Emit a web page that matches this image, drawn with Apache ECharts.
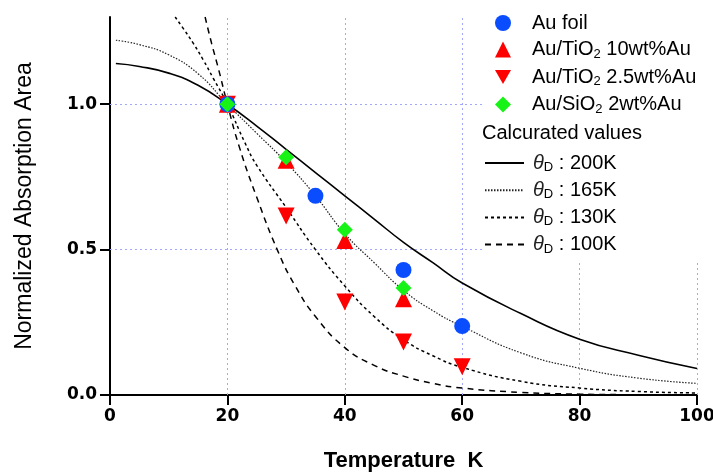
<!DOCTYPE html>
<html>
<head>
<meta charset="utf-8">
<script src="https://cdn.jsdelivr.net/npm/echarts@6/dist/echarts.min.js"></script>
<style>
html, body { margin: 0; padding: 0; background: #fff; }
#chart { width: 713px; height: 472px; }
</style>
</head>
<body>
<div id="chart"></div>
<script>
// measured points
const tFoil = [20, 35, 50, 60];
const auFoil = [1.0, 0.685, 0.43, 0.237];
const tTi10 = [20, 30, 40, 50];
const auTi10 = [1.0, 0.807, 0.531, 0.331];
const tTi25 = [20, 30, 40, 50, 60];
const auTi25 = [1.0, 0.616, 0.32, 0.182, 0.097];
const tSi = [20, 30, 40, 50];
const auSi = [1.0, 0.818, 0.568, 0.368];

// calculated curves
const t200 = [1, 5, 10, 15, 20, 25, 30, 35, 40, 45, 50, 55, 60, 70, 80, 90, 100];
const c200 = [1.14, 1.13, 1.107, 1.065, 1.0, 0.925, 0.845, 0.765, 0.685, 0.605, 0.525, 0.455, 0.385, 0.28, 0.192, 0.137, 0.091];
const t165 = [1, 5, 10, 15, 20, 25, 30, 35, 40, 45, 50, 55, 60, 70, 80, 90, 100];
const c165 = [1.22, 1.205, 1.17, 1.105, 1.0, 0.9, 0.8, 0.685, 0.555, 0.455, 0.36, 0.29, 0.236, 0.145, 0.092, 0.058, 0.04];
const t130 = [11.1, 12.5, 14.2, 15.9, 17.6, 20, 23, 25, 30, 35, 40, 45, 50, 55, 60, 70, 80, 90, 100];
const c130 = [1.3, 1.26, 1.209, 1.152, 1.089, 1.0, 0.867, 0.79, 0.645, 0.5, 0.375, 0.27, 0.19, 0.135, 0.095, 0.047, 0.024, 0.012, 0.007];
const t100 = [16.2, 17.3, 18.5, 20, 22, 25, 28.7, 31.5, 35, 40, 45, 50, 55, 60, 70, 80, 90, 100];
const c100 = [1.3, 1.21, 1.12, 1.0, 0.855, 0.68, 0.49, 0.377, 0.27, 0.163, 0.102, 0.065, 0.04, 0.024, 0.009, 0.003, 0.001, 0.0005];

const xTicks = [0, 20, 40, 60, 80, 100];
const yTicks = [0, 0.5, 1.0];
const gridX = [20, 40, 60, 80, 100];
const gridY = [0.5, 1.0];

const SANS = 'Liberation Sans, Arial, sans-serif';
const BLUE = '#0a4dff';
const RED = '#ff0000';
const GREEN = '#17f317';

function pairs(xs, ys) {
  return xs.map((x, i) => [x, ys[i]]);
}

function curve(name, xs, ys, type, width, color) {
  return {
    name: name,
    type: 'line',
    data: pairs(xs, ys),
    smooth: true,
    symbol: 'none',
    lineStyle: { color: color, width: width, type: type },
    itemStyle: { color: color },
    z: 2
  };
}

function points(name, xs, ys, symbol, size, color, rotate) {
  return {
    name: name,
    type: 'scatter',
    data: pairs(xs, ys),
    symbol: symbol,
    symbolSize: size,
    symbolRotate: rotate || 0,
    itemStyle: { color: color, opacity: 1 },
    z: 3
  };
}

const richText = {
  lead: { width: 16, fontSize: 20 },
  sub: { fontSize: 13, fontFamily: SANS, padding: [9, 0, 0, 0] },
  th: { fontSize: 20, fontFamily: SANS, fontStyle: 'italic', color: '#222', padding: [0, 0, 0, 4] },
  n: { fontSize: 20, fontFamily: SANS }
};

const gridLines = gridX.map(v => ({ xAxis: v })).concat(gridY.map(v => ({ yAxis: v })));

const s200 = curve('θD : 200K', t200, c200, 'solid', 1.6, '#000');
s200.markLine = {
  silent: true,
  z: 1,
  symbol: ['none', 'none'],
  label: { show: false },
  lineStyle: { color: '#a3a8ff', width: 1, type: [2, 3] },
  data: gridLines
};

const option = {
  animation: false,
  grid: { left: 110, right: 16, top: 17, bottom: 77, outerBoundsMode: 'none', containLabel: false },
  xAxis: {
    type: 'value', min: 0, max: 100, interval: 20,
    name: 'Temperature  K', nameLocation: 'middle', nameGap: 55,
    nameTextStyle: { fontFamily: SANS, fontSize: 22, fontWeight: 'bold', color: '#000' },
    axisLine: { lineStyle: { color: '#000', width: 2 } },
    axisTick: { length: 10, lineStyle: { color: '#000', width: 2 }, customValues: xTicks },
    axisLabel: { fontFamily: 'DejaVu Sans', fontWeight: 'bold', fontSize: 17, color: '#000', margin: 13, customValues: xTicks },
    splitLine: { show: false }
  },
  yAxis: {
    type: 'value', min: 0, max: 1.3, interval: 0.5,
    name: 'Normalized Absorption Area', nameLocation: 'middle', nameGap: 74,
    nameTextStyle: { fontFamily: SANS, fontSize: 23, color: '#000' },
    axisLine: { lineStyle: { color: '#000', width: 2 } },
    axisTick: { length: 10, lineStyle: { color: '#000', width: 2 }, customValues: yTicks },
    axisLabel: {
      fontFamily: 'DejaVu Sans', fontWeight: 'bold', fontSize: 17, color: '#000', margin: 13,
      customValues: yTicks,
      formatter: v => v.toFixed(1)
    },
    splitLine: { show: false }
  },
  legend: [
    {
      data: [
        { name: 'Au foil' },
        { name: 'Au/TiO2 10wt%Au' },
        { name: 'Au/TiO2 2.5wt%Au', icon: 'path://M0,0 L10,0 L5,8.66 Z' },
        { name: 'Au/SiO2 2wt%Au' }
      ],
      orient: 'vertical', left: 495, top: 13,
      itemWidth: 16, itemHeight: 16, itemGap: 6.5,
      padding: 0,
      selectedMode: false,
      formatter: name => '{lead| }{n|' + name.replace(/O2/, 'O}{sub|2}{n|') + '}',
      textStyle: { fontFamily: SANS, fontSize: 20, color: '#000', rich: richText }
    },
    {
      data: ['θD : 200K', 'θD : 165K', 'θD : 130K', 'θD : 100K'],
      orient: 'vertical', left: 484, top: 153,
      itemWidth: 39, itemHeight: 14, itemGap: 6.2,
      padding: 0,
      selectedMode: false,
      itemStyle: { opacity: 0 },
      formatter: name => '{th|θ}{sub|D}{n|' + name.slice(2) + '}',
      textStyle: { fontFamily: SANS, fontSize: 20, color: '#000', rich: richText }
    }
  ],
  graphic: [
    {
      type: 'rect', z: 3, silent: true,
      shape: { x: 483, y: 4, width: 230, height: 259 },
      style: { fill: '#fff' }
    },
    {
      type: 'text', z: 4, silent: true,
      x: 482, y: 133,
      style: { text: 'Calcurated values', font: '20px ' + SANS, fill: '#000', verticalAlign: 'middle' }
    }
  ],
  series: [
    s200,
    curve('θD : 165K', t165, c165, [1.5, 1.5], 1.2, '#222'),
    curve('θD : 130K', t130, c130, [3, 3], 1.5, '#000'),
    curve('θD : 100K', t100, c100, [6, 5], 1.5, '#000'),
    points('Au/TiO2 10wt%Au', tTi10, auTi10, 'triangle', 17, RED),
    points('Au/TiO2 2.5wt%Au', tTi25, auTi25, 'triangle', 17, RED, 180),
    points('Au foil', tFoil, auFoil, 'circle', 16, BLUE),
    points('Au/SiO2 2wt%Au', tSi, auSi, 'diamond', 16, GREEN)
  ]
};

const chart = echarts.init(document.getElementById('chart'));
chart.setOption(option);
</script>
</body>
</html>
